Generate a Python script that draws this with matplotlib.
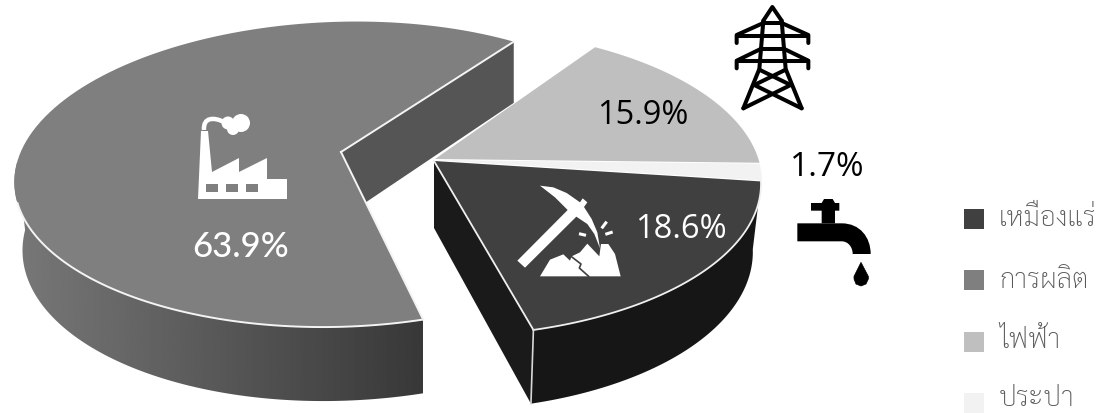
import numpy as np
import matplotlib
matplotlib.use("Agg")
import matplotlib.pyplot as plt
from matplotlib import font_manager as fm
from matplotlib.path import Path
from matplotlib.patches import PathPatch, Polygon, Circle, Rectangle

categories = ["เหมืองแร่", "การผลิต", "ไฟฟ้า", "ประปา"]
shares = [18.6, 63.9, 15.9, 1.7]
share_labels = ["18.6%", "63.9%", "15.9%", "1.7%"]
colors = ["#404040", "#7f7f7f", "#bfbfbf", "#f2f2f2"]

# thin looped Thai face if there is one
names = {f.name for f in fm.fontManager.ttflist}
thai = [n for n in ("Sarabun", "Niramit", "K2D", "IBM Plex Sans Thai Looped", "Noto Sans Thai Looped") if n in names]
thai = thai[:1] + ["DejaVu Sans"]

# perspective of the pie plane, per slice since the big one is pulled left
RX = [315.0, 319.0, 315.0, 315.0]
PERSP_X = [0.026, 0.0, 0.026, 0.026]
RY, PERSP = 149.5, 0.146
DEPTH, DEPTH_TILT, BASE_SHRINK = 67.0, 7.0, 0.975
START = 7.5

# slice tips after exploding, and the sideways drift (a + b*v) of each rim
TIPS = [(434, 162), (341, 153), (435, 160), (435, 161)]
DRIFT = [(0, 0), (-1.3, -17.0), (0, 0), (0, 0)]

total = sum(shares)
edges = START + np.cumsum([0] + [s / total * 360 for s in shares])


def rim(i, a, b, base=False, n=120):
    th = np.radians(np.linspace(a, b, n))
    u, v = np.cos(th), np.sin(th)
    w = 1 - PERSP * v - PERSP_X[i] * u
    x, y = RX[i] * u / w, RY * v / w
    x = x + DRIFT[i][0] + DRIFT[i][1] * v
    if base:
        # the big slice only narrows on its far left side
        x = np.where(x < 0, x * BASE_SHRINK, x) if i == 1 else x * BASE_SHRINK
        y = y + DEPTH + DEPTH_TILT * v
    return np.column_stack([TIPS[i][0] + x, TIPS[i][1] + y])


def top_face(i):
    return np.vstack([TIPS[i], rim(i, edges[i], edges[i + 1])])


def outer_wall(i, a, b):
    return np.vstack([rim(i, a, b), rim(i, a, b, base=True)[::-1]])


def inner_wall(i, angle):
    tip = np.array(TIPS[i], float)
    return np.vstack([tip, rim(i, angle, angle, n=1),
                      rim(i, angle, angle, base=True, n=1), tip + [0, DEPTH]])


fig = plt.figure(figsize=(11.04, 4.14), dpi=100)
ax = fig.add_axes([0, 0, 1, 1])
ax.set_xlim(0, 1104)
ax.set_ylim(414, 0)
ax.axis("off")

# electricity and water sit at the back
for i in (2, 3):
    ax.add_patch(Polygon(top_face(i), fc=colors[i], ec="none", zorder=2))

# manufacturing: walls then top
ax.add_patch(Polygon(inner_wall(1, edges[2]), fc="#555555", ec="none", zorder=3))
wall = Polygon(outer_wall(1, edges[1], 176), fc="none", ec="none", zorder=3)
ax.add_patch(wall)
grad = ax.imshow(np.linspace(0.47, 0.22, 256)[None, :], extent=(14, 423, 414, 150),
                 cmap="gray", vmin=0, vmax=1, aspect="auto", zorder=3)
grad.set_clip_path(wall)
ax.set_xlim(0, 1104)
ax.set_ylim(414, 0)
ax.add_patch(Polygon(top_face(1), fc=colors[1], ec="none", zorder=4))
front = rim(1, edges[1], 161)
ax.plot(front[:, 0], front[:, 1], color="#f4f4f4", lw=1.4, zorder=5)
for ang in edges[1:3]:
    e = rim(1, ang, ang, n=1)[0]
    ax.plot([TIPS[1][0], e[0]], [TIPS[1][1], e[1]], color="#f4f4f4", lw=1.4, zorder=5)

# mining slice in front
ax.add_patch(Polygon(inner_wall(0, edges[1]), fc="#1a1a1a", ec="none", zorder=6))
ax.add_patch(Polygon(outer_wall(0, edges[0], edges[1]), fc="#161616", ec="none", zorder=6))
ax.add_patch(Polygon(top_face(0), fc=colors[0], ec="none", zorder=7))
front = rim(0, edges[0], edges[1])
ax.plot(front[:, 0], front[:, 1], color="#f0f0f0", lw=1.3, zorder=8)
e = front[-1]
ax.plot([TIPS[0][0], e[0]], [TIPS[0][1], e[1]], color="#f0f0f0", lw=1.3, zorder=8)
b = rim(0, edges[1], edges[1], base=True, n=1)[0]
ax.plot([e[0], b[0]], [e[1], b[1]], color="#d8d8d8", lw=1.2, zorder=8)


def scaled(pts, ox, oy, s=3.0):
    return [(ox + x / s, oy + y / s) for x, y in pts]


def add_factory(z=9):
    body = [(198, 200), (287, 200), (287, 180), (267, 180), (267, 159), (239, 173),
            (239, 159), (212, 173), (208, 132), (201, 132)]
    ax.add_patch(Polygon(body, fc="white", ec="none", zorder=z))
    for wx in (206, 226, 246):
        ax.add_patch(Rectangle((wx, 185), 12, 8, fc=colors[1], ec="none", zorder=z))
    smoke = Path([(204, 131), (203, 118), (214, 118), (224, 123)],
                 [Path.MOVETO, Path.CURVE4, Path.CURVE4, Path.CURVE4])
    ax.add_patch(PathPatch(smoke, fc="none", ec="white", lw=3.2, zorder=z))
    for cx, cy, r in [(228, 124, 6.5), (241, 124, 9), (233, 130, 6)]:
        ax.add_patch(Circle((cx, cy), r, fc="white", ec="none", zorder=z))


def add_pick(z=9):
    ox, oy = 500, 170
    handle = [(52, 275), (75, 296), (232, 140), (208, 118)]
    head = [(120, 50), (160, 55), (200, 72), (240, 100), (248, 88), (262, 100), (252, 114),
            (275, 150), (292, 190), (300, 238), (283, 195), (262, 165), (232, 145), (205, 125),
            (165, 85)]
    rock = [(120, 322), (150, 272), (190, 256), (210, 275), (215, 262), (240, 250), (262, 224),
            (298, 262), (303, 225), (325, 225), (345, 255), (362, 322)]
    for pts in (handle, head, rock):
        ax.add_patch(Polygon(scaled(pts, ox, oy), fc="white", ec="none", zorder=z))
    for seg in ([(213, 262), (243, 285), (238, 297), (266, 322)],):
        s = np.array(scaled(seg, ox, oy))
        ax.plot(s[:, 0], s[:, 1], color=colors[0], lw=1.2, zorder=z)
    for seg in ([(237, 194), (258, 199)], [(305, 178), (320, 158)], [(316, 196), (338, 189)]):
        s = np.array(scaled(seg, ox, oy))
        ax.plot(s[:, 0], s[:, 1], color="white", lw=2.2, solid_capstyle="butt", zorder=z)


def add_tower(z=9):
    ox, oy = 720, 0
    lines = [
        [(130, 65), (157, 24), (185, 65)],
        [(130, 65), (118, 210), (70, 328)],
        [(185, 65), (197, 210), (245, 328)],
        [(130, 72), (185, 72)],
        [(130, 72), (50, 108), (50, 132)],
        [(185, 72), (265, 108), (265, 132)],
        [(50, 110), (265, 110)],
        [(122, 150), (193, 150)],
        [(122, 150), (50, 185), (50, 208)],
        [(193, 150), (265, 185), (265, 208)],
        [(50, 187), (265, 187)],
        [(118, 212), (212, 258), (70, 328)],
        [(197, 212), (103, 258), (245, 328)],
    ]
    for seg in lines:
        s = np.array(scaled(seg, ox, oy))
        ax.plot(s[:, 0], s[:, 1], color="black", lw=2.9, solid_joinstyle="round",
                solid_capstyle="round", zorder=z)


def add_tap(z=9):
    ox, oy = 780, 190
    bar = [(93, 42), (125, 42), (132, 30), (158, 30), (165, 42), (178, 42), (178, 65), (165, 65),
           (165, 103), (125, 103), (125, 65), (93, 65)]
    ax.add_patch(Polygon(scaled(bar, ox, oy), fc="black", ec="none", zorder=z))
    verts = [(52, 103), (185, 103), (240, 103), (272, 145), (272, 195), (218, 195), (218, 175),
             (205, 157), (185, 157), (52, 157), (52, 103)]
    codes = [Path.MOVETO, Path.LINETO, Path.CURVE4, Path.CURVE4, Path.CURVE4, Path.LINETO,
             Path.CURVE4, Path.CURVE4, Path.CURVE4, Path.LINETO, Path.CLOSEPOLY]
    ax.add_patch(PathPatch(Path(scaled(verts, ox, oy), codes), fc="black", ec="none", zorder=z))
    drop = [(243, 220), (222, 262), (222, 270), (228, 285), (243, 291), (258, 285), (265, 270),
            (265, 262)]
    ax.add_patch(Polygon(scaled(drop, ox, oy), fc="black", ec="black", lw=0.5, zorder=z))


add_factory()
add_pick()
add_tower()
add_tap()

label_pos = [(681, 230), (241, 247), (642.5, 116), (827.5, 168)]
label_col = ["white", "white", "black", "black"]
label_font = ["Open Sans", "Lato", "Open Sans", "Open Sans"]
label_size = [23.5, 25, 23.5, 24]
for txt, (x, y), c, fam, sz in zip(share_labels, label_pos, label_col, label_font, label_size):
    ax.text(x, y, txt, color=c, ha="center", va="center", fontsize=sz, family=fam,
            fontweight="medium", zorder=10)

# legend
legend_y = [210, 271, 333, 394]
text_y = [219, 281, 341, 399]
for name, c, sy, ty in zip(categories, colors, legend_y, text_y):
    ax.add_patch(Rectangle((964, sy), 20, 20, fc=c, ec="none", zorder=2))
    ax.text(999, ty, name, color="#595959", ha="left", va="center", fontsize=20,
            family=thai, fontweight="light", zorder=2)

fig.savefig("out.png", dpi=100)
